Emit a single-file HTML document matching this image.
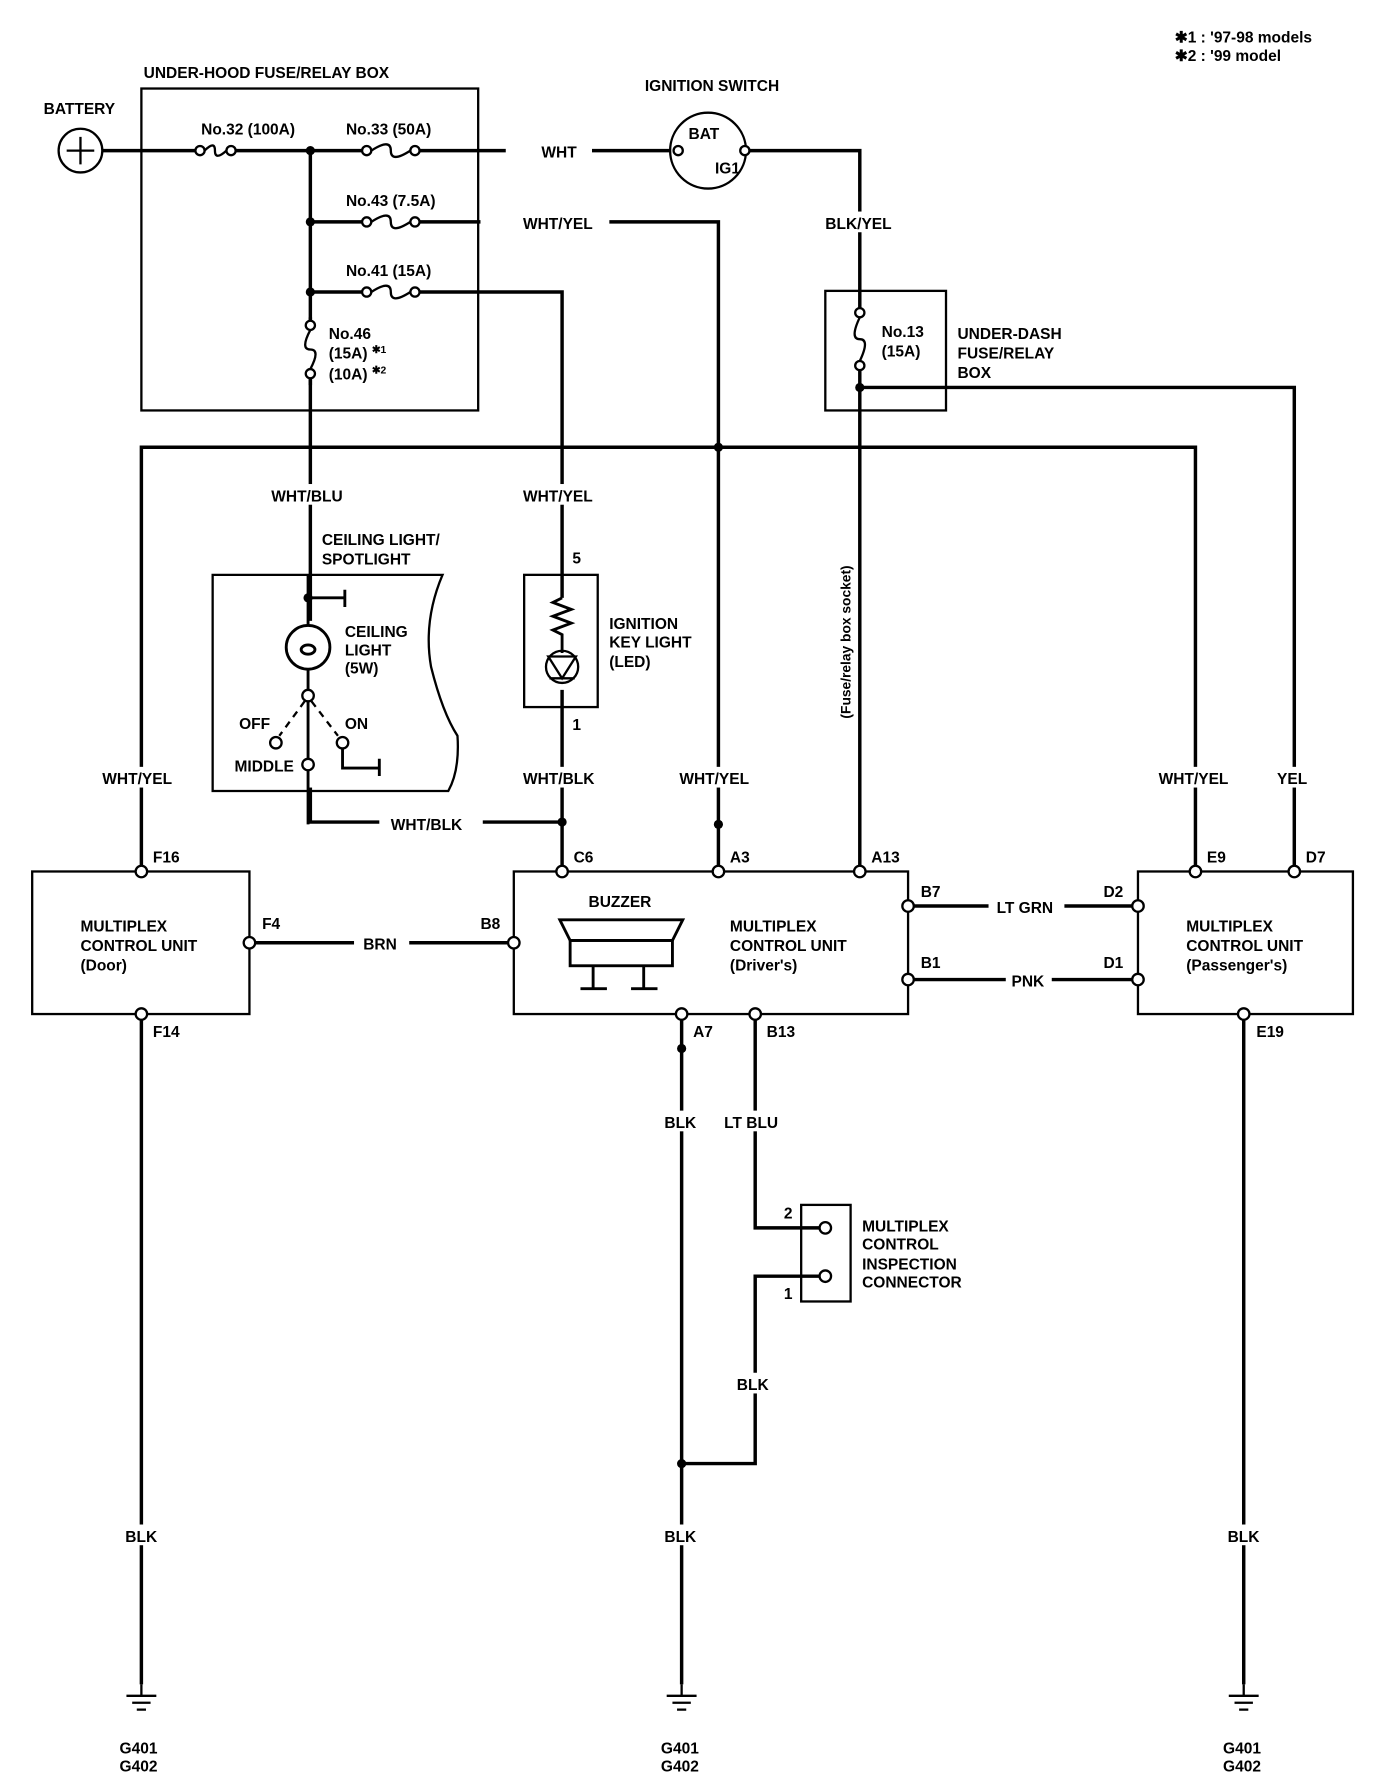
<!DOCTYPE html>
<html><head><meta charset="utf-8"><style>
html,body{margin:0;padding:0;background:#fff;}
svg{display:block}
text{font-family:"Liberation Sans",sans-serif;font-size:13.5px;font-weight:bold;fill:#000;}
</style></head><body>
<svg width="1392" height="1774" viewBox="0 0 1211 1543" preserveAspectRatio="none" xmlns="http://www.w3.org/2000/svg">
<rect width="1211" height="1543" fill="#fff"/>
<g fill="none" stroke="#000" stroke-width="3">
<!-- notes -->
</g>
<text x="1022" y="37">✱1  : '97-98 models</text>
<text x="1022" y="53">✱2  : '99 model</text>

<!-- under-hood box -->
<rect x="123" y="77" width="293" height="280" fill="none" stroke="#000" stroke-width="2"/>
<text x="125" y="68">UNDER-HOOD FUSE/RELAY BOX</text>
<!-- battery -->
<circle cx="70" cy="131" r="19" fill="none" stroke="#000" stroke-width="2"/>
<path d="M58 131H82M70 119V143" stroke="#000" stroke-width="2"/>
<text x="38" y="99">BATTERY</text>

<g fill="none" stroke="#000" stroke-width="3">
<path d="M89 131H170"/>
<path d="M205 131H315"/>
<path d="M365 131H460"/>
<path d="M515 131H583"/>
<path d="M648 131H748V268"/>
<path d="M748 322V758"/>
<path d="M748 337H1126V758"/>
<path d="M270 131V715H489"/>
<path d="M270 193H315M365 193H420M530 193H625V758"/>
<path d="M270 254H315M365 254H489V520"/>
<path d="M489 600V758"/>
<path d="M123 758V389H1040V758"/>
<path d="M217 820H310M355 820H447"/>
<path d="M790 788H990M790 852H990"/>
<path d="M123 882V1465M1082 882V1465M593 882V1465"/>
<path d="M657 882V1068H718M718 1110H657V1273H593"/>
</g>
<!-- label backgrounds -->
<g fill="#fff">
<rect x="440" y="122" width="75" height="18"/>
<rect x="418" y="184" width="112" height="18"/>
<rect x="712" y="184" width="72" height="18"/>
<rect x="232" y="421" width="76" height="18"/>
<rect x="452" y="421" width="74" height="18"/>
<rect x="452" y="667" width="74" height="18"/>
<rect x="588" y="667" width="74" height="18"/>
<rect x="1005" y="667" width="74" height="18"/>
<rect x="1108" y="667" width="34" height="18"/>
<rect x="86" y="667" width="74" height="18"/>
<rect x="330" y="706" width="90" height="18"/>
<rect x="308" y="811" width="48" height="18"/>
<rect x="860" y="779" width="66" height="18"/>
<rect x="875" y="843" width="40" height="18"/>
<rect x="575" y="966" width="36" height="18"/>
<rect x="625" y="966" width="62" height="18"/>
<rect x="637" y="1194" width="36" height="18"/>
<rect x="105" y="1326" width="36" height="18"/>
<rect x="575" y="1326" width="36" height="18"/>
<rect x="1064" y="1326" width="36" height="18"/>
<rect x="726" y="480" width="18" height="150"/>
</g>
<text x="471" y="137">WHT</text>
<text x="455" y="199">WHT/YEL</text>
<text x="718" y="199">BLK/YEL</text>
<text x="236" y="436">WHT/BLU</text>
<text x="455" y="436">WHT/YEL</text>
<text x="455" y="682">WHT/BLK</text>
<text x="591" y="682">WHT/YEL</text>
<text x="1008" y="682">WHT/YEL</text>
<text x="1111" y="682">YEL</text>
<text x="89" y="682">WHT/YEL</text>
<text x="340" y="722">WHT/BLK</text>
<text x="316" y="826">BRN</text>
<text x="867" y="794">LT GRN</text>
<text x="880" y="858">PNK</text>
<text x="578" y="981">BLK</text>
<text x="630" y="981">LT BLU</text>
<text x="641" y="1209">BLK</text>
<text x="109" y="1341">BLK</text>
<text x="578" y="1341">BLK</text>
<text x="1068" y="1341">BLK</text>
<text transform="translate(740,625) rotate(-90)" style="font-size:12px">(Fuse/relay box socket)</text>

<!-- fuses -->
<g fill="#fff" stroke="#000" stroke-width="2">
<circle cx="174" cy="131" r="4"/><circle cx="201" cy="131" r="4"/>
<circle cx="319" cy="131" r="4"/><circle cx="361" cy="131" r="4"/>
<circle cx="319" cy="193" r="4"/><circle cx="361" cy="193" r="4"/>
<circle cx="319" cy="254" r="4"/><circle cx="361" cy="254" r="4"/>
<circle cx="748" cy="272" r="4"/><circle cx="748" cy="318" r="4"/>
</g>
<g fill="none" stroke="#000" stroke-width="2">
<path d="M178 131 Q187 122 187 131 Q187 140 197 131"/>
<path d="M323 131 Q340 120 340 131 Q340 142 357 131"/>
<path d="M323 193 Q340 182 340 193 Q340 204 357 193"/>
<path d="M323 254 Q340 243 340 254 Q340 265 357 254"/>
<path d="M748 276 Q739 295 748 295 Q757 295 748 314"/>
</g>
<!-- No.46 fuse -->
<rect x="264" y="278" width="12" height="52" fill="#fff"/>
<g fill="#fff" stroke="#000" stroke-width="2">
<circle cx="270" cy="283" r="4"/><circle cx="270" cy="325" r="4"/>
</g>
<path d="M270 287 Q261 304 270 304 Q279 304 270 321" fill="none" stroke="#000" stroke-width="2"/>
<path d="M270 276V279M270 329V335" stroke="#000" stroke-width="3"/>
<text x="175" y="117">No.32 (100A)</text>
<text x="301" y="117">No.33 (50A)</text>
<text x="301" y="179">No.43 (7.5A)</text>
<text x="301" y="240">No.41 (15A)</text>
<text x="286" y="295">No.46</text>
<text x="286" y="312">(15A) <tspan style="font-size:9px" dy="-5">✱1</tspan></text>
<text x="286" y="330">(10A) <tspan style="font-size:9px" dy="-5">✱2</tspan></text>

<!-- ignition switch -->
<circle cx="616" cy="131" r="33" fill="#fff" stroke="#000" stroke-width="2"/>
<circle cx="590" cy="131" r="4" fill="#fff" stroke="#000" stroke-width="2"/>
<circle cx="648" cy="131" r="4" fill="#fff" stroke="#000" stroke-width="2"/>
<text x="599" y="121">BAT</text>
<text x="622" y="151">IG1</text>
<text x="561" y="79">IGNITION SWITCH</text>

<!-- under-dash -->
<rect x="718" y="253" width="105" height="104" fill="none" stroke="#000" stroke-width="2"/>
<text x="767" y="293">No.13</text>
<text x="767" y="310">(15A)</text>
<text x="833" y="295">UNDER-DASH</text>
<text x="833" y="312">FUSE/RELAY</text>
<text x="833" y="329">BOX</text>

<!-- dots -->
<g fill="#000">
<circle cx="270" cy="131" r="4"/><circle cx="270" cy="193" r="4"/><circle cx="270" cy="254" r="4"/>
<circle cx="625" cy="389" r="4"/><circle cx="625" cy="717" r="4"/><circle cx="489" cy="715" r="4"/>
<circle cx="748" cy="337" r="4"/><circle cx="268" cy="520" r="4"/>
<circle cx="593" cy="912" r="4"/><circle cx="593" cy="1273" r="4"/>
</g>

<!-- ceiling light -->
<text x="280" y="474">CEILING LIGHT/</text>
<text x="280" y="491">SPOTLIGHT</text>
<path d="M185 500H385 Q368 540 375 580 Q385 620 398 640 Q400 670 390 688H185Z" fill="none" stroke="#000" stroke-width="2"/>
<rect x="262" y="540" width="14" height="145" fill="#fff"/>
<g fill="none" stroke="#000" stroke-width="2.5">
<path d="M268 500V544M268 582V600M268 610V660M268 670V717"/>
<path d="M268 520H300 M300 513V528"/>
<circle cx="268" cy="563" r="19"/>
<ellipse cx="268" cy="565" rx="6" ry="4"/>
<path d="M298 648V668H330M330 660V675"/>
</g>
<g fill="#fff" stroke="#000" stroke-width="2">
<circle cx="268" cy="605" r="5"/><circle cx="268" cy="665" r="5"/>
<circle cx="240" cy="646" r="5"/><circle cx="298" cy="646" r="5"/>
</g>
<path d="M265 610L243 640M271 610L294 640" stroke="#000" stroke-width="2" stroke-dasharray="6,5"/>
<text x="300" y="554">CEILING</text>
<text x="300" y="570">LIGHT</text>
<text x="300" y="586">(5W)</text>
<text x="208" y="634">OFF</text>
<text x="300" y="634">ON</text>
<text x="204" y="671">MIDDLE</text>

<!-- ignition key light -->
<rect x="456" y="500" width="64" height="115" fill="none" stroke="#000" stroke-width="2"/>
<path d="M489 520L481 524L497 530L481 536L497 542L481 548L489 552V568" fill="none" stroke="#000" stroke-width="2.5"/>
<circle cx="489" cy="580" r="14" fill="none" stroke="#000" stroke-width="2"/>
<path d="M477 571H501L489 590Z M478 590H500" fill="none" stroke="#000" stroke-width="2"/>
<text x="498" y="490">5</text>
<text x="498" y="635">1</text>
<text x="530" y="547">IGNITION</text>
<text x="530" y="563">KEY LIGHT</text>
<text x="530" y="580">(LED)</text>

<!-- MCU boxes -->
<g fill="none" stroke="#000" stroke-width="2">
<rect x="28" y="758" width="189" height="124"/>
<rect x="447" y="758" width="343" height="124"/>
<rect x="990" y="758" width="187" height="124"/>
<rect x="697" y="1048" width="43" height="84"/>
</g>
<text x="70" y="810">MULTIPLEX</text>
<text x="70" y="827">CONTROL UNIT</text>
<text x="70" y="844">(Door)</text>
<text x="635" y="810">MULTIPLEX</text>
<text x="635" y="827">CONTROL UNIT</text>
<text x="635" y="844">(Driver's)</text>
<text x="1032" y="810">MULTIPLEX</text>
<text x="1032" y="827">CONTROL UNIT</text>
<text x="1032" y="844">(Passenger's)</text>
<text x="512" y="789">BUZZER</text>
<g fill="none" stroke="#000" stroke-width="2.5">
<path d="M487 800H594L585 818H496Z"/>
<rect x="496" y="818" width="89" height="22"/>
<path d="M516 840V860M505 860H528M560 840V860M549 860H572"/>
</g>
<text x="750" y="1071">MULTIPLEX</text>
<text x="750" y="1087">CONTROL</text>
<text x="750" y="1104">INSPECTION</text>
<text x="750" y="1120">CONNECTOR</text>
<text x="682" y="1060">2</text>
<text x="682" y="1130">1</text>

<g fill="#fff" stroke="#000" stroke-width="2">
<circle cx="123" cy="758" r="5"/><circle cx="123" cy="882" r="5"/><circle cx="217" cy="820" r="5"/>
<circle cx="447" cy="820" r="5"/><circle cx="489" cy="758" r="5"/><circle cx="625" cy="758" r="5"/>
<circle cx="748" cy="758" r="5"/><circle cx="790" cy="788" r="5"/><circle cx="790" cy="852" r="5"/>
<circle cx="593" cy="882" r="5"/><circle cx="657" cy="882" r="5"/>
<circle cx="1040" cy="758" r="5"/><circle cx="1126" cy="758" r="5"/>
<circle cx="990" cy="788" r="5"/><circle cx="990" cy="852" r="5"/><circle cx="1082" cy="882" r="5"/>
<circle cx="718" cy="1068" r="5"/><circle cx="718" cy="1110" r="5"/>
</g>
<text x="133" y="750">F16</text>
<text x="133" y="902">F14</text>
<text x="228" y="808">F4</text>
<text x="418" y="808">B8</text>
<text x="499" y="750">C6</text>
<text x="635" y="750">A3</text>
<text x="758" y="750">A13</text>
<text x="801" y="780">B7</text>
<text x="801" y="842">B1</text>
<text x="960" y="780">D2</text>
<text x="960" y="842">D1</text>
<text x="1050" y="750">E9</text>
<text x="1136" y="750">D7</text>
<text x="1093" y="902">E19</text>
<text x="603" y="902">A7</text>
<text x="667" y="902">B13</text>

<!-- grounds -->
<g fill="none" stroke="#000" stroke-width="2">
<path d="M110 1475H136M115 1481H131M119 1487H127M123 1465V1475"/>
<path d="M580 1475H606M585 1481H601M589 1487H597M593 1465V1475"/>
<path d="M1069 1475H1095M1074 1481H1090M1078 1487H1086M1082 1465V1475"/>
</g>
<text x="104" y="1525">G401</text><text x="104" y="1541">G402</text>
<text x="575" y="1525">G401</text><text x="575" y="1541">G402</text>
<text x="1064" y="1525">G401</text><text x="1064" y="1541">G402</text>
</svg>
</body></html>
